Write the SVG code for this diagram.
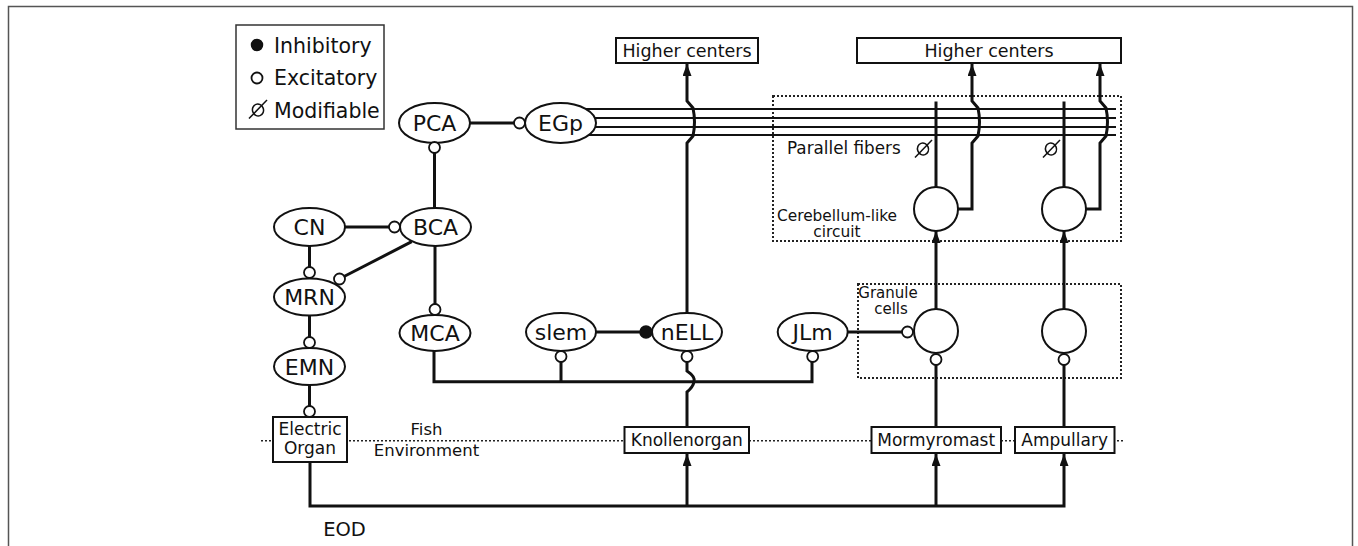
<svg xmlns="http://www.w3.org/2000/svg" width="1358" height="546" viewBox="0 0 1358 546">
<defs>
<style>
text{font-family:"DejaVu Sans","Liberation Sans",sans-serif;fill:#111}
.lbl{font-size:22px;text-anchor:middle}
.box{font-size:17px;text-anchor:middle}
.hc{font-size:17.5px;text-anchor:middle}
.sm{font-size:15px;text-anchor:middle}
.leg{font-size:20.5px}
.node{fill:#fff;stroke:#111;stroke-width:2}
.rect{fill:#fff;stroke:#111;stroke-width:2}
.wire{fill:none;stroke:#111;stroke-width:3}
.fiber{fill:none;stroke:#111;stroke-width:2.2}
.dot{fill:none;stroke:#222;stroke-width:2;stroke-dasharray:2 2}
.exc{fill:#fff;stroke:#111;stroke-width:1.8}
.inh{fill:#111;stroke:#111;stroke-width:1.5}
.mod{fill:none;stroke:#111;stroke-width:1.5}
</style>
<marker id="arr" markerUnits="userSpaceOnUse" markerWidth="12" markerHeight="9" refX="12" refY="4.5" orient="auto">
<path d="M0,0 L12,4.5 L0,9 z" fill="#111"/>
</marker>
</defs>
<rect x="0" y="0" width="1358" height="546" fill="#fff"/>
<rect x="8.5" y="6.5" width="1344" height="560" fill="none" stroke="#555" stroke-width="1.5"/>

<g id="legend">
<rect x="236" y="25" width="148" height="104" fill="#fff" stroke="#333" stroke-width="1.5"/>
<circle cx="257" cy="45" r="5.5" class="inh"/>
<text x="274" y="52.5" class="leg">Inhibitory</text>
<circle cx="257" cy="78" r="5.5" class="exc"/>
<text x="274" y="85" class="leg">Excitatory</text>
<ellipse cx="258" cy="110" rx="5.5" ry="6" class="mod" transform="rotate(-20 258 110)"/>
<line x1="249" y1="118.5" x2="267" y2="100" class="mod"/>
<text x="274" y="117.5" class="leg">Modifiable</text>
</g>

<g id="regions">
<rect x="773" y="96" width="348" height="145" class="dot"/>
<rect x="858" y="284" width="263" height="94" class="dot"/>
<line x1="261" y1="440.7" x2="1124" y2="440.7" stroke="#222" stroke-width="1.5" stroke-dasharray="2 2"/>
<text x="787" y="154" style="font-size:16.8px">Parallel fibers</text>
<text x="837" y="221" class="sm" style="font-size:15.4px">Cerebellum-like</text>
<text x="837" y="237" class="sm" style="font-size:15.4px">circuit</text>
<text x="888" y="297.5" class="sm">Granule</text>
<text x="891" y="313.5" class="sm">cells</text>
<text x="426.5" y="435" class="sm" style="font-size:16.5px">Fish</text>
<text x="426.5" y="456" class="sm" style="font-size:16.5px">Environment</text>
<text x="344.5" y="536" style="font-size:19.5px;text-anchor:middle">EOD</text>
</g>

<g id="connectors">
<line x1="560" y1="109" x2="1116" y2="109" class="fiber"/>
<line x1="560" y1="118" x2="1116" y2="118" class="fiber"/>
<line x1="560" y1="127" x2="1116" y2="127" class="fiber"/>
<line x1="560" y1="135" x2="1116" y2="135" class="fiber"/>
<line x1="470" y1="123" x2="514" y2="123" class="wire"/>
<line x1="434.5" y1="153" x2="434.5" y2="210" class="wire"/>
<line x1="345" y1="227" x2="389" y2="227" class="wire"/>
<line x1="309.5" y1="246" x2="309.5" y2="267" class="wire"/>
<line x1="411.7" y1="241.7" x2="344" y2="276.5" class="wire"/>
<line x1="309.5" y1="315" x2="309.5" y2="337" class="wire"/>
<line x1="309.5" y1="385" x2="309.5" y2="406" class="wire"/>
<line x1="435" y1="246" x2="435" y2="304" class="wire"/>
<path d="M434 351 V381.7 H812 V362" class="wire"/>
<line x1="561" y1="362" x2="561" y2="381.7" class="wire"/>
<line x1="596" y1="332" x2="640" y2="332" class="wire"/>
<line x1="848" y1="332" x2="902" y2="332" class="wire"/>
<path d="M687 313 V143 L693 136 Q696 122 693 108 L687 101 V64" class="wire" marker-end="url(#arr)"/>
<path d="M958 209 H972 V143 L978 136 Q981 122 978 108 L972 101 V64" class="wire" marker-end="url(#arr)"/>
<path d="M1086 209 H1100 V143 L1106 136 Q1109 122 1106 108 L1100 101 V64" class="wire" marker-end="url(#arr)"/>
<line x1="936" y1="187" x2="936" y2="101.5" class="wire"/>
<line x1="1064" y1="187" x2="1064" y2="101.5" class="wire"/>
<line x1="936" y1="309" x2="936" y2="231" class="wire" marker-end="url(#arr)"/>
<line x1="1064" y1="309" x2="1064" y2="231" class="wire" marker-end="url(#arr)"/>
<path d="M687 362 V371 Q696 377 694 382 Q693 387 687 392 V427" class="wire"/>
<line x1="936" y1="365" x2="936" y2="427" class="wire"/>
<line x1="1064" y1="365" x2="1064" y2="427" class="wire"/>
<path d="M310 462 V506 H1064 V454" class="wire" marker-end="url(#arr)"/>
<line x1="687" y1="506" x2="687" y2="454" class="wire" marker-end="url(#arr)"/>
<line x1="936" y1="506" x2="936" y2="454" class="wire" marker-end="url(#arr)"/>
</g>

<g id="nodes">
<g id="higher1"><rect x="616" y="38" width="142" height="25" class="rect"/><text x="687" y="57" class="hc">Higher centers</text></g>
<g id="higher2"><rect x="857" y="38" width="264" height="25" class="rect"/><text x="989" y="57" class="hc">Higher centers</text></g>
<g id="PCA"><ellipse cx="434.5" cy="123" rx="35.5" ry="20" class="node"/><text x="434.5" y="131" class="lbl">PCA</text></g>
<g id="EGp"><ellipse cx="560.5" cy="123" rx="35.5" ry="20" class="node"/><text x="560.5" y="131" class="lbl">EGp</text></g>
<g id="CN"><ellipse cx="309.5" cy="227" rx="35.5" ry="19" class="node"/><text x="309.5" y="235" class="lbl">CN</text></g>
<g id="BCA"><ellipse cx="435.5" cy="227" rx="35.5" ry="19" class="node"/><text x="435.5" y="235" class="lbl">BCA</text></g>
<g id="MRN"><ellipse cx="309.5" cy="297" rx="35.5" ry="18.5" class="node"/><text x="309.5" y="305" class="lbl">MRN</text></g>
<g id="EMN"><ellipse cx="309.5" cy="366.5" rx="35.5" ry="18.5" class="node"/><text x="309.5" y="374.5" class="lbl">EMN</text></g>
<g id="MCA"><ellipse cx="435" cy="333" rx="35.5" ry="18" class="node"/><text x="435" y="341" class="lbl">MCA</text></g>
<g id="slem"><ellipse cx="561" cy="332" rx="35" ry="19" class="node"/><text x="561" y="340" class="lbl">slem</text></g>
<g id="nELL"><ellipse cx="687" cy="332" rx="35" ry="19" class="node"/><text x="687" y="340" class="lbl">nELL</text></g>
<g id="JLm"><ellipse cx="812.7" cy="332" rx="35" ry="19" class="node"/><text x="812.7" y="340" class="lbl">JLm</text></g>
<g id="cereb1"><circle cx="936" cy="209" r="22" class="node"/></g>
<g id="cereb2"><circle cx="1064" cy="209" r="22" class="node"/></g>
<g id="gran1"><circle cx="936" cy="331" r="22" class="node"/></g>
<g id="gran2"><circle cx="1064" cy="331" r="22" class="node"/></g>
<g id="electric-organ"><rect x="273" y="417" width="74" height="45" class="rect"/><text x="310" y="435" class="box">Electric</text><text x="310" y="454" class="box">Organ</text></g>
<g id="knollenorgan"><rect x="624.5" y="427" width="124.5" height="26" class="rect"/><text x="686.8" y="446.3" class="box">Knollenorgan</text></g>
<g id="mormyromast"><rect x="871.5" y="427" width="129.5" height="26" class="rect"/><text x="936.2" y="446.3" class="box">Mormyromast</text></g>
<g id="ampullary"><rect x="1015" y="427" width="99.5" height="26" class="rect"/><text x="1064.7" y="446.3" class="box">Ampullary</text></g>
</g>

<g id="synapses">
<circle cx="519.5" cy="123" r="5.5" class="exc"/>
<circle cx="434.5" cy="147.5" r="5.5" class="exc"/>
<circle cx="394.5" cy="227" r="5.5" class="exc"/>
<circle cx="309.5" cy="272.5" r="5.5" class="exc"/>
<circle cx="339.5" cy="279" r="5.5" class="exc"/>
<circle cx="309.5" cy="342.5" r="5.5" class="exc"/>
<circle cx="309.5" cy="411.5" r="5.5" class="exc"/>
<circle cx="435" cy="309.5" r="5.5" class="exc"/>
<circle cx="561" cy="356.5" r="5.5" class="exc"/>
<circle cx="687" cy="356.5" r="5.5" class="exc"/>
<circle cx="812.7" cy="356.5" r="5.5" class="exc"/>
<circle cx="646" cy="332" r="6" class="inh"/>
<circle cx="907.5" cy="332" r="5.5" class="exc"/>
<circle cx="936" cy="359.5" r="5.5" class="exc"/>
<circle cx="1064" cy="359.5" r="5.5" class="exc"/>
<ellipse cx="923" cy="149" rx="5.5" ry="6" class="mod" transform="rotate(-20 923 149)"/>
<line x1="915" y1="157.5" x2="932" y2="140" class="mod"/>
<ellipse cx="1051" cy="149" rx="5.5" ry="6" class="mod" transform="rotate(-20 1051 149)"/>
<line x1="1043" y1="157.5" x2="1060" y2="140" class="mod"/>
</g>
</svg>
